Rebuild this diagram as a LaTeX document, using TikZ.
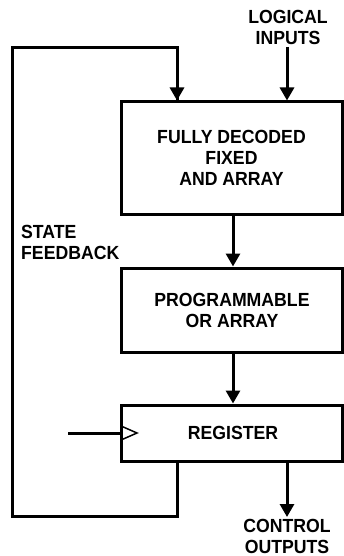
\documentclass[tikz,border=0pt]{standalone}
\usepackage{fontspec}
\setmainfont{Liberation Sans}
\newfontfamily\lblfont[FakeStretch=0.93]{Liberation Sans}
\usetikzlibrary{arrows.meta}
\begin{document}
\begin{tikzpicture}[x=1pt,y=-1pt,
  blk/.style={draw, line width=3pt, inner sep=0pt},
  lbl/.style={font=\lblfont\bfseries\fontsize{19}{21}\selectfont, align=center, inner sep=0pt},
  wire/.style={line width=3pt},
  arr/.style={line width=3pt, -{Triangle[width=14pt,length=13pt]}}]
\useasboundingbox (0,0) rectangle (344,556);
\node[blk, minimum width=221pt, minimum height=112pt] (and) at (231.5,158) {};
\node[lbl] (andt) at (231.5,158) {FULLY DECODED\\FIXED\\AND ARRAY};
\node[blk, minimum width=221pt, minimum height=84pt] (or) at (231.5,310) {};
\node[lbl] (ort) at (232,310) {PROGRAMMABLE\\OR ARRAY};
\node[blk, minimum width=221pt, minimum height=56pt] (reg) at (231.5,433) {};
\node[lbl] (regt) at (233,433) {REGISTER};
\node[lbl] (inp) at (288,27) {LOGICAL\\INPUTS};
\node[lbl] (outp) at (287,536) {CONTROL\\OUTPUTS};
\node[lbl, align=left, anchor=west] (fb) at (21,242) {STATE\\FEEDBACK};
\coordinate (ix) at (287,47);
\coordinate (ox) at (287,517);
\coordinate (f1) at (177,516);
\coordinate (f2) at (12,516);
\coordinate (f3) at (12,48);
\coordinate (f4) at (177,48);
\coordinate (clk) at (68,433);
\coordinate (cx) at (233,0);
\draw[arr] (ix) -- (and.north -| ix);
\draw[arr] (and.south -| cx) -- (or.north -| cx);
\draw[arr] (or.south -| cx) -- (reg.north -| cx);
\draw[arr] (reg.south -| ox) -- (ox);
\draw[wire, line join=miter] (reg.south -| f1) -- (f1) -- (f2) -- (f3) -- (f4) -- ([yshift=-2pt]and.north -| f4);
\draw[arr] (f4) -- (and.north -| f4);
\draw[wire] (clk) -- (reg.west);
\draw[line width=1.5pt, line join=miter] (121,426) -- (137,433) -- (121,440);
\end{tikzpicture}
\end{document}
